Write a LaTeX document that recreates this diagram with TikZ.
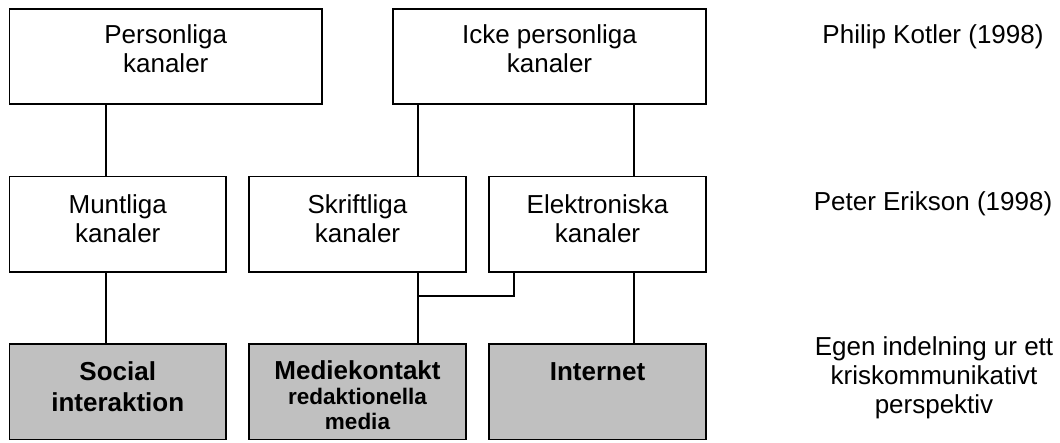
\documentclass[tikz,border=0pt]{standalone}
\usepackage{fontspec}
\setmainfont{Liberation Sans}
\begin{document}
\begin{tikzpicture}[x=1pt,y=-1pt,
  box/.style={draw=black, line width=1.7pt, inner sep=0pt, outer sep=0pt,
              anchor=north west, minimum height=95.5pt},
  wbox/.style={box, fill=white},
  gbox/.style={box, fill=boxgrey},
  conn/.style={draw=black, line width=1.7pt},
  txt/.style={font=\fontsize{26}{29}\selectfont, align=center, anchor=base, inner sep=0pt},
  btxt/.style={font=\fontsize{26}{31}\selectfont\bfseries, align=center, anchor=base, inner sep=0pt},
  side/.style={font=\fontsize{26}{29}\selectfont, align=center, anchor=base, inner sep=0pt}]
\definecolor{boxgrey}{RGB}{192,192,192}
\useasboundingbox (0,0) rectangle (1060,442);

% boxes
\node[wbox, minimum width=312.5pt] (A) at (9.5,8.7) {};
\node[wbox, minimum width=313pt]   (B) at (393,8.7) {};
\node[wbox, minimum width=216.5pt] (C) at (9.5,176.5) {};
\node[wbox, minimum width=217pt]   (D) at (249,176.5) {};
\node[wbox, minimum width=217pt]   (E) at (489,176.5) {};
\node[gbox, minimum width=216.5pt] (F) at (9.5,344) {};
\node[gbox, minimum width=217pt]   (G) at (249,344) {};
\node[gbox, minimum width=217pt]   (H) at (489,344) {};

% box texts (anchored on the baseline of the last line)
\node[txt] (tA) at (165.75,72.7) {Personliga\\kanaler};
\node[txt] (tB) at (549.5,72.7) {Icke personliga\\kanaler};
\node[txt] (tC) at (117.75,242.7) {Muntliga\\kanaler};
\node[txt] (tD) at (357.5,242.7) {Skriftliga\\kanaler};
\node[txt] (tE) at (597.5,242.7) {Elektroniska\\kanaler};
\node[btxt] (tF) at (117.75,411) {Social\\interaktion};
\node[btxt, font=\fontsize{26}{24.7}\selectfont\bfseries] (tG) at (357.5,429.3)
  {Mediekontakt\\{\fontsize{22.5}{24.7}\selectfont redaktionella}\\{\fontsize{22.5}{24.7}\selectfont media}};
\node[btxt] (tH) at (597.5,380) {Internet};

% sources
\node[side] (s1) at (933,43.3) {Philip Kotler (1998)};
\node[side] (s2) at (933,210.7) {Peter Erikson (1998)};
\node[side] (s3) at (934,413) {Egen indelning ur ett\\kriskommunikativt\\perspektiv};

% connector columns
\coordinate (xa) at (106,0);
\coordinate (xb) at (418,0);
\coordinate (xc) at (634,0);
\coordinate (xe) at (514,0);
\coordinate (j) at (418,296);

\draw[conn] (A.south -| xa) -- (C.north -| xa);
\draw[conn] (C.south -| xa) -- (F.north -| xa);
\draw[conn] (B.south -| xb) -- (D.north -| xb);
\draw[conn] (B.south -| xc) -- (E.north -| xc);
\draw[conn] (D.south -| xb) -- (G.north -| xb);
\draw[conn] (E.south -| xe) |- (j);
\draw[conn] (E.south -| xc) -- (H.north -| xc);
\end{tikzpicture}
\end{document}
